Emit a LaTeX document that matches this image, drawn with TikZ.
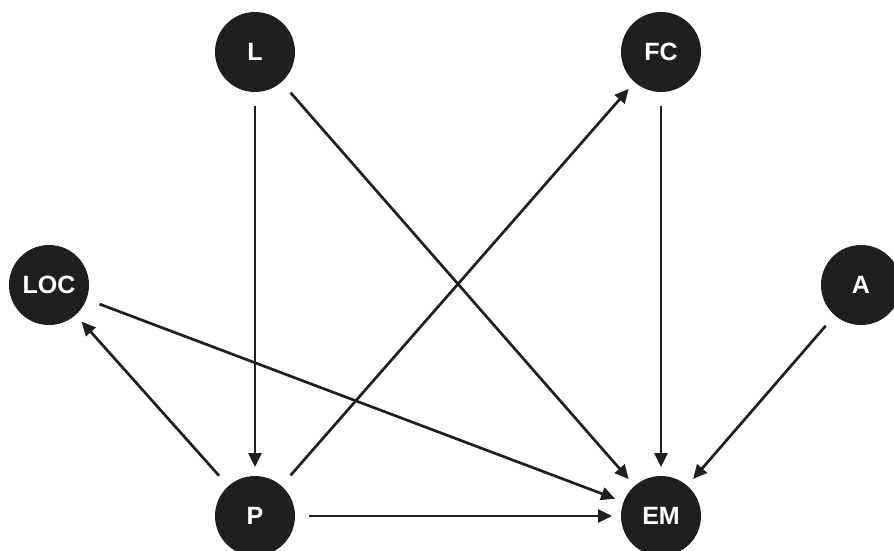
\documentclass[tikz,border=0pt]{standalone}
\usepackage{fontspec}
\setmainfont{Liberation Sans}
\usetikzlibrary{arrows.meta}
\begin{document}
\begin{tikzpicture}[x=1pt,y=-1pt,
  var/.style={circle,fill=black!88,minimum size=80pt,inner sep=0pt,outer sep=0pt,
    text=white,font=\fontsize{25}{25}\selectfont\bfseries},
  link/.style={line width=2.7pt,draw=black!88,-{Triangle[length=14pt,width=13pt]},
    shorten <=14pt,shorten >=9pt}]
\useasboundingbox (0,0) rectangle (894,551);
\node[var] (L) at (255,52) {L};
\node[var] (FC) at (661,52) {FC};
\node[var] (LOC) at (49,285) {LOC};
\node[var] (A) at (861,285) {A};
\node[var] (P) at (255,516) {P};
\node[var] (EM) at (661,516) {EM};
\draw[link] (L) -- (P);
\draw[link] (L) -- (EM);
\draw[link] (FC) -- (EM);
\draw[link] (P) -- (FC);
\draw[link] (LOC) -- (EM);
\draw[link] (P) -- (LOC);
\draw[link] (A) -- (EM);
\draw[link] (P) -- (EM);
\end{tikzpicture}
\end{document}
